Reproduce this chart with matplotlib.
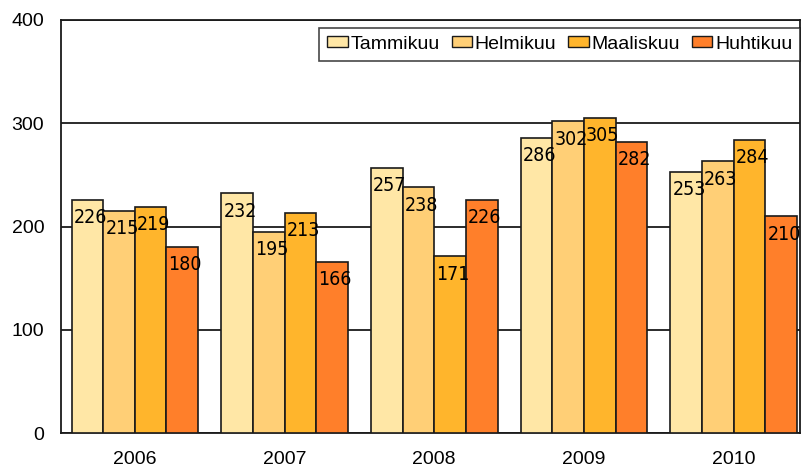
import matplotlib.pyplot as plt
import numpy as np
from matplotlib.patches import Patch
from matplotlib import font_manager

years = ['2006', '2007', '2008', '2009', '2010']
months = ['Tammikuu', 'Helmikuu', 'Maaliskuu', 'Huhtikuu']
tammikuu = [226, 232, 257, 286, 253]
helmikuu = [215, 195, 238, 302, 263]
maaliskuu = [219, 213, 171, 305, 284]
huhtikuu = [180, 166, 226, 282, 210]
series = [tammikuu, helmikuu, maaliskuu, huhtikuu]
colors = ['#FFE7A6', '#FFCF76', '#FFB52C', '#FF7F2A']

plt.rcParams['font.family'] = ['Liberation Sans', 'DejaVu Sans']

# narrow font for the value labels, whichever is installed
names = {f.name for f in font_manager.fontManager.ttflist}
narrow = 'Liberation Sans'
narrow_stretch = 'normal'
for cand in ['Liberation Sans Narrow', 'DejaVu Sans Condensed']:
    if cand in names:
        narrow = cand
        break
else:
    cond = [f for f in font_manager.fontManager.ttflist
            if f.name == 'DejaVu Sans' and f.stretch == 'condensed']
    if cond:
        narrow = 'DejaVu Sans'
        narrow_stretch = 'condensed'

fig = plt.figure(figsize=(8.01, 4.71), dpi=100)
ax = fig.add_axes([61 / 801, 1 - 433 / 471, (800 - 61) / 801, (433 - 20) / 471])

w = 0.2113
x = np.arange(len(years))
for i, (vals, c) in enumerate(zip(series, colors)):
    left = x - 2 * w + i * w
    ax.bar(left, vals, width=w, align='edge', color=c, edgecolor='#1a1a1a',
           linewidth=1.2, zorder=3)
    for xl, v in zip(left, vals):
        ax.annotate(str(v), (xl, v), xytext=(1.5, -6), textcoords='offset points',
                    ha='left', va='top', fontsize=14, family=[narrow, 'DejaVu Sans'],
                    stretch=narrow_stretch, zorder=4)

ax.set_xlim(-0.493, 4.443)
ax.set_ylim(0, 400)
ax.set_yticks([0, 100, 200, 300, 400])
ax.set_xticks(x)
ax.set_xticklabels(years)
ax.tick_params(axis='both', length=0, labelsize=14)
ax.tick_params(axis='y', pad=12)
ax.tick_params(axis='x', pad=13)
ax.yaxis.grid(True, color='#1a1a1a', linewidth=1.3, zorder=0)
for s in ax.spines.values():
    s.set_color('#1a1a1a')
    s.set_linewidth(1.3)

handles = [Patch(facecolor=c, edgecolor='#1a1a1a', linewidth=1) for c in colors]
leg = ax.legend(handles, months, ncol=4, loc='upper right',
                bbox_to_anchor=(1.0, 1 - 8 / 413), borderaxespad=0,
                fontsize=14, frameon=True, fancybox=False, handlelength=1.05,
                handleheight=0.5, handletextpad=0.15, columnspacing=0.6,
                borderpad=0.4)
leg.get_frame().set_edgecolor('#1a1a1a')
leg.get_frame().set_linewidth(1.2)
leg.set_zorder(5)

fig.savefig('out.png', dpi=100)
